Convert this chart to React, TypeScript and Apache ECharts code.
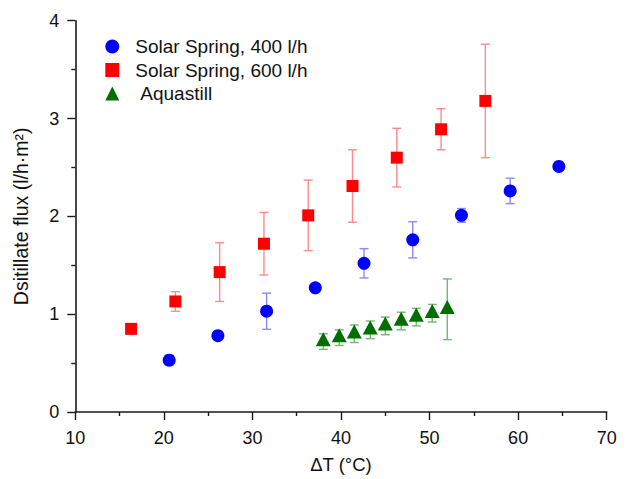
import React, { useEffect, useRef } from "react";
import * as echarts from "echarts";

const blueX = [20.6, 26.1, 31.6, 37.1, 42.6, 48.1, 53.6, 59.1, 64.6];
const blueY = [0.53, 0.78, 1.03, 1.27, 1.52, 1.76, 2.01, 2.26, 2.51];
const blueErr = [0.05, 0.04, 0.185, 0.04, 0.15, 0.185, 0.07, 0.13, 0.02];

const redX = [16.3, 21.3, 26.3, 31.3, 36.3, 41.3, 46.3, 51.3, 56.3];
const redY = [0.85, 1.13, 1.43, 1.72, 2.01, 2.31, 2.6, 2.89, 3.18];
const redErr = [0.05, 0.1, 0.3, 0.32, 0.36, 0.37, 0.3, 0.21, 0.58];

const greenX = [38.0, 39.8, 41.5, 43.3, 45.0, 46.8, 48.5, 50.3, 52.0];
const greenY = [0.72, 0.76, 0.8, 0.84, 0.88, 0.93, 0.97, 1.01, 1.05];
const greenErr = [0.08, 0.08, 0.09, 0.09, 0.09, 0.09, 0.09, 0.09, 0.31];

const seriesNames = ["Solar Spring, 400 l/h", "Solar Spring, 600 l/h", "Aquastill"];

const FONT = "'Liberation Sans', Arial, Helvetica, sans-serif";

function errSeries(xs: number[], ys: number[], es: number[], color: string) {
  return {
    type: "custom",
    silent: true,
    z: 1,
    data: xs.map((x, i) => [x, ys[i] - es[i], ys[i] + es[i]]),
    encode: { x: 0, y: [1, 2] },
    renderItem: (params: any, api: any) => {
      const x = api.value(0);
      const lo = api.value(1);
      const hi = api.value(2);
      const p1 = api.coord([x, hi]);
      const p2 = api.coord([x, lo]);
      const w = 4.5;
      const style = { stroke: color, lineWidth: 1.4 };
      return {
        type: "group",
        children: [
          { type: "line", shape: { x1: p1[0], y1: p1[1], x2: p2[0], y2: p2[1] }, style },
          { type: "line", shape: { x1: p1[0] - w, y1: p1[1], x2: p1[0] + w, y2: p1[1] }, style },
          { type: "line", shape: { x1: p2[0] - w, y1: p2[1], x2: p2[0] + w, y2: p2[1] }, style },
        ],
      };
    },
  };
}

export default function App() {
  const ref = useRef<HTMLDivElement>(null);
  useEffect(() => {
    if (!ref.current) return;
    const chart = echarts.init(ref.current, null, { renderer: "svg" });
    const axisLine = { show: true, lineStyle: { color: "#1a1a1a", width: 1.6 } };
    chart.setOption({
      animation: false,
      backgroundColor: "#ffffff",
      textStyle: { fontFamily: FONT },
      grid: { left: 75.3, right: 22.3, top: 20.7, bottom: 66 },
      legend: {
        orient: "vertical",
        left: 100.3,
        top: 32,
        itemWidth: 14,
        itemHeight: 14,
        itemGap: 4.5,
        symbolKeepAspect: true,
        textStyle: { fontFamily: FONT, fontSize: 19, color: "#111", padding: [0, 0, 0, 11] },
        data: [
          { name: seriesNames[0], icon: "circle" },
          { name: seriesNames[1], icon: "rect" },
          {
            name: seriesNames[2],
            icon: "triangle",
            textStyle: { fontFamily: FONT, fontSize: 19, color: "#111", padding: [0, 0, 0, 16] },
          },
        ],
      },
      xAxis: {
        type: "value",
        min: 10,
        max: 70,
        interval: 10,
        name: "ΔT (°C)",
        nameLocation: "middle",
        nameGap: 43,
        nameTextStyle: { fontFamily: FONT, fontSize: 18.5, color: "#111" },
        axisLine,
        axisTick: { show: true, inside: false, length: 8, lineStyle: { color: "#1a1a1a", width: 1.4 } },
        minorTick: { show: true, splitNumber: 2, length: 4, lineStyle: { color: "#1a1a1a", width: 1.4 } },
        axisLabel: { fontFamily: FONT, fontSize: 18, color: "#111", margin: 17 },
        splitLine: { show: false },
      },
      yAxis: {
        type: "value",
        min: 0,
        max: 4,
        interval: 1,
        name: "Dsitillate flux (l/h·m²)",
        nameLocation: "middle",
        nameGap: 44,
        nameTextStyle: { fontFamily: FONT, fontSize: 19.5, color: "#111" },
        axisLine,
        axisTick: { show: true, inside: false, length: 8, lineStyle: { color: "#1a1a1a", width: 1.4 } },
        minorTick: { show: true, splitNumber: 2, length: 4, lineStyle: { color: "#1a1a1a", width: 1.4 } },
        axisLabel: { fontFamily: FONT, fontSize: 18, color: "#111", margin: 16 },
        splitLine: { show: false },
      },
      series: [
        errSeries(blueX, blueY, blueErr, "#8a8aff"),
        errSeries(redX, redY, redErr, "#ff8a8a"),
        errSeries(greenX, greenY, greenErr, "#72b872"),
        {
          name: seriesNames[0],
          type: "scatter",
          symbol: "circle",
          symbolSize: 13,
          z: 3,
          itemStyle: { color: "#0000ff", opacity: 1 },
          data: blueX.map((x, i) => [x, blueY[i]]),
        },
        {
          name: seriesNames[1],
          type: "scatter",
          symbol: "rect",
          symbolSize: 12,
          z: 3,
          itemStyle: { color: "#ff0000", opacity: 1 },
          data: redX.map((x, i) => [x, redY[i]]),
        },
        {
          name: seriesNames[2],
          type: "scatter",
          symbol: "triangle",
          symbolSize: [15, 14],
          symbolOffset: [0, -2.3],
          z: 3,
          itemStyle: { color: "#006f00", opacity: 1 },
          data: greenX.map((x, i) => [x, greenY[i]]),
        },
      ],
    });
    return () => chart.dispose();
  }, []);
  return (
    <div
      ref={ref}
      style={{ position: "fixed", left: 0, top: 0, width: 629, height: 479, background: "#fff" }}
    />
  );
}
